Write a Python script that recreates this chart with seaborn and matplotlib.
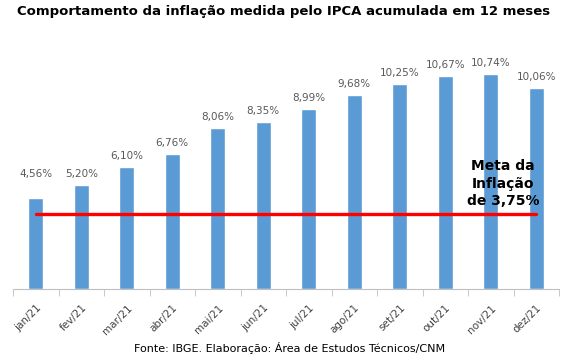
import matplotlib
matplotlib.use('Agg')
from matplotlib import pyplot as plt
import numpy as np
import pandas as pd
import seaborn as sns

meses = ['jan/21', 'fev/21', 'mar/21', 'abr/21', 'mai/21', 'jun/21',
         'jul/21', 'ago/21', 'set/21', 'out/21', 'nov/21', 'dez/21']
ipca = [4.56, 5.20, 6.10, 6.76, 8.06, 8.35, 8.99, 9.68, 10.25, 10.67, 10.74, 10.06]
rotulos = ['4,56%', '5,20%', '6,10%', '6,76%', '8,06%', '8,35%',
           '8,99%', '9,68%', '10,25%', '10,67%', '10,74%', '10,06%']
meta = 3.75

df = pd.DataFrame({'mes': meses, 'ipca': ipca})

sns.set_style('white')
plt.rcParams['font.family'] = ['DejaVu Sans']

fig = plt.figure(figsize=(5.67, 3.58), dpi=100)
ax = fig.add_axes([0.023, 0.193, 0.963, 0.67])

sns.barplot(x='mes', y='ipca', data=df, color='#5B9BD5', saturation=1,
            width=0.33, ax=ax)

for i, (v, r) in enumerate(zip(ipca, rotulos)):
    # in the original the jan label sits level with the fev one
    y = max(v, ipca[1]) if i == 0 else v
    ax.text(i, y + 0.3, r, ha='center', va='bottom', fontsize=7.5, color='#595959')

ax.plot(range(len(meses)), [meta] * len(meses), color='#FF0000', lw=2.4, zorder=3)
ax.text(10.27, meta + 0.3, 'Meta da\nInflação\nde 3,75%', ha='center',
        va='bottom', fontsize=10, fontweight='bold', color='black', linespacing=1.3)

ax.set_ylim(0, 12)
ax.set_xlim(-0.5, len(meses) - 0.5)
ax.set_yticks([])
ax.set_xlabel('')
ax.set_ylabel('')
for s in ['top', 'right', 'left']:
    ax.spines[s].set_visible(False)
ax.spines['bottom'].set_color('#BFBFBF')
ax.set_xticks(np.arange(len(meses) + 1) - 0.5, minor=True)
ax.tick_params(axis='x', which='minor', length=5, color='#BFBFBF', bottom=True)
ax.tick_params(axis='x', which='major', length=0, pad=10)
plt.setp(ax.get_xticklabels(), rotation=45, ha='right', rotation_mode='anchor',
         fontsize=7.5, color='#404040')

fig.text(0.5, 0.985, 'Comportamento da inflação medida pelo IPCA acumulada em 12 meses',
         ha='center', va='top', fontsize=9.5, fontweight='bold', color='black')
fig.text(0.51, 0.012, 'Fonte: IBGE. Elaboração: Área de Estudos Técnicos/CNM',
         ha='center', va='bottom', fontsize=8, color='black')

fig.savefig('out.png', dpi=100)
